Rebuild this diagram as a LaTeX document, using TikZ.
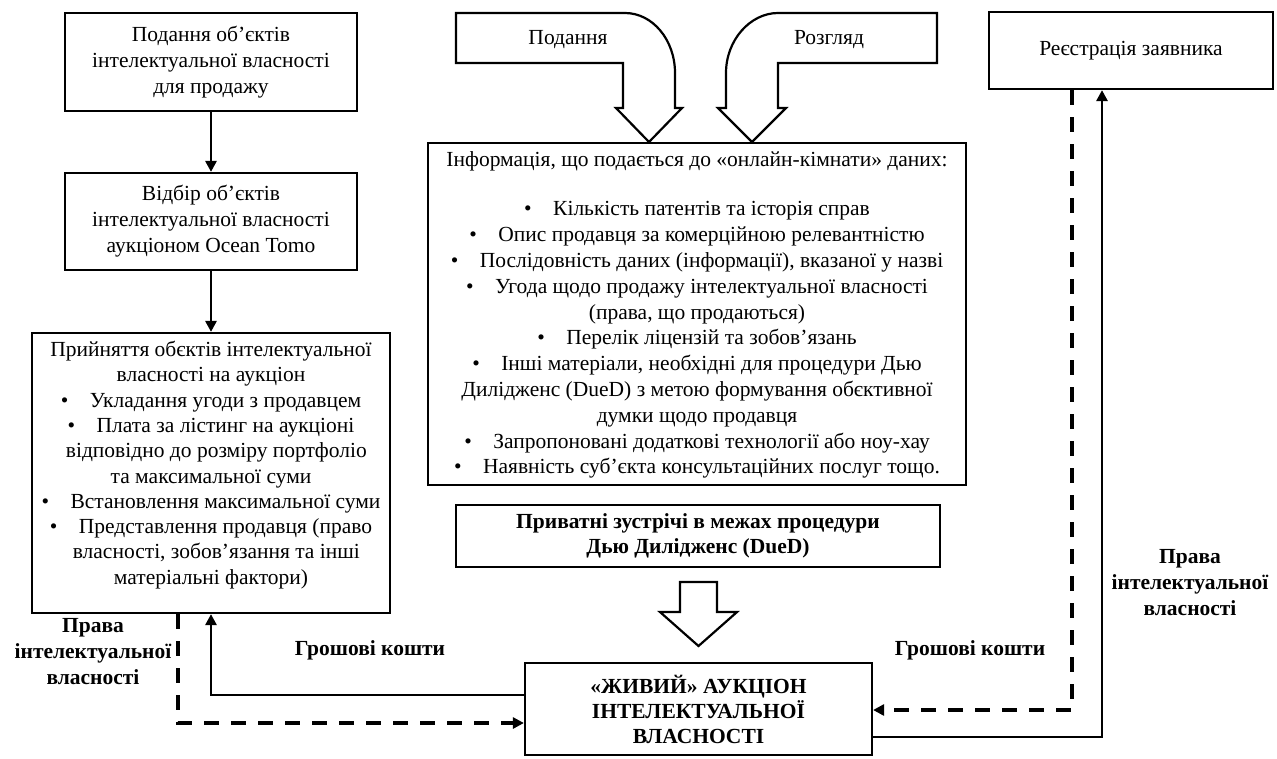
\documentclass[tikz,border=0pt]{standalone}
\usepackage{fontspec}
\setmainfont{Liberation Serif}
\usetikzlibrary{arrows.meta}
\begin{document}
\begin{tikzpicture}[x=1pt,y=-1pt,
  font=\fontsize{21.5}{26}\selectfont,
  box/.style={draw, line width=2.2pt, inner sep=0pt, align=center},
  txt/.style={inner sep=0pt, align=center},
  lbl/.style={inner sep=0pt, align=center, font=\fontsize{21.5}{26}\selectfont\bfseries},
  conn/.style={line width=2.8pt, -{Triangle[length=11pt,width=11pt]}},
  dconn/.style={line width=3.2pt, dash pattern=on 15pt off 12pt, -{Triangle[length=11pt,width=11pt]}},
  bigarrow/.style={draw, line width=2.2pt, line join=miter, fill=white}
]
\useasboundingbox (0,0) rectangle (1277,758);

% left column
\node[box, minimum width=292, minimum height=98] (box1) at (211,62)
  {Подання об'єктів\\інтелектуальної власності\\для продажу};
\node[box, minimum width=292, minimum height=97] (box2) at (211,221.5)
  {Відбір об'єктів\\інтелектуальної власності\\аукціоном Ocean Tomo};
\node[box, minimum width=358, minimum height=280] (box3) at (211,473) {};
\node[txt, font=\fontsize{21.5}{25.3}\selectfont] (box3t) at (211,465)
  {Прийняття обєктів інтелектуальної\\
   власності на аукціон\\
   •\quad Укладання угоди з продавцем\\
   •\quad Плата за лістинг на аукціоні\\
   \ \ відповідно до розміру портфоліо\\
   та максимальної суми\\
   •\quad Встановлення максимальної суми\\
   •\quad Представлення продавця (право\\
   \ \ власності, зобов'язання та інші\\
   матеріальні фактори)};

\draw[conn] (box1.south) -- (box2.north);
\draw[conn] (box2.south) -- (box3.north);

% curved input arrows
\draw[bigarrow] (456,13) -- (625,13) .. controls (652.6,13) and (675,39.9) .. (675,73)
  -- (675,108) -- (682,108) -- (649,142) -- (616,108) -- (623,108) -- (623,63) -- (456,63) -- cycle;
\node[txt] (podannya) at (568,40) {Подання};
\draw[bigarrow] (937,13) -- (778,13) .. controls (750.4,13) and (726,39.9) .. (726,73)
  -- (726,108) -- (718,108) -- (752,142) -- (786,108) -- (778,108) -- (778,63) -- (937,63) -- cycle;
\node[txt] (rozhlyad) at (829,40) {Розгляд};

% info box
\node[box, minimum width=538, minimum height=342] (info) at (697,314) {};
\node[txt] (infoh) at (697,161) {Інформація, що подається до «онлайн-кімнати» даних:};
\node[txt, font=\fontsize{21.5}{25.8}\selectfont] (infot) at (697,340)
  {•\quad Кількість патентів та історія справ\\
   •\quad Опис продавця за комерційною релевантністю\\
   •\quad Послідовність даних (інформації), вказаної у назві\\
   •\quad Угода щодо продажу інтелектуальної власності\\
   (права, що продаються)\\
   •\quad Перелік ліцензій та зобов'язань\\
   •\quad Інші матеріали, необхідні для процедури Дью\\
   Дилідженс (DueD) з метою формування обєктивної\\
   думки щодо продавця\\
   •\quad Запропоновані додаткові технології або ноу-хау\\
   •\quad Наявність суб'єкта консультаційних послуг тощо.};

% DueD box
\node[box, minimum width=484, minimum height=62, font=\fontsize{21.5}{25}\selectfont\bfseries] (dued) at (698,536)
  {Приватні зустрічі в межах процедури\\Дью Дилідженс (DueD)};
\draw[bigarrow] (680,582) -- (717,582) -- (717,612) -- (737,612) -- (698.5,646) -- (660,612) -- (680,612) -- cycle;

% auction box
\node[box, minimum width=347, minimum height=92, font=\fontsize{21.5}{25}\selectfont\bfseries] (auction) at (698.5,709)
  {«ЖИВИЙ» АУКЦІОН\\ІНТЕЛЕКТУАЛЬНОЇ\\ВЛАСНОСТІ};

% registration box
\node[box, minimum width=284, minimum height=77] (reg) at (1131,50.5) {Реєстрація заявника};

% left connectors
\draw[conn] (auction.west |- 0,695) -| (box3.south -| 211,0);
\draw[dconn] (box3.south -| 178,0) |- (auction.west |- 0,723);
\node[lbl] (lmoney) at (370,650) {Грошові кошти};
\node[lbl] (lrights) at (93,652) {Права\\інтелектуальної\\власності};

% right connectors
\draw[conn] (auction.east |- 0,737) -| (reg.south -| 1102,0);
\draw[dconn] (reg.south -| 1072,0) |- (auction.east |- 0,710);
\node[lbl] (rmoney) at (970,650) {Грошові кошти};
\node[lbl] (rrights) at (1190,583) {Права\\інтелектуальної\\власності};
\end{tikzpicture}
\end{document}
